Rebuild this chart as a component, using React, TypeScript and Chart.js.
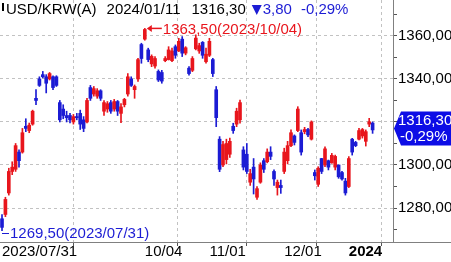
import React, { useEffect, useRef } from 'react';
import { Chart, registerables } from 'chart.js';

Chart.register(...registerables);

// ---- data (USD/KRW daily candles, 2023/07/31 - 2024/01/11) ----
const openP = [
  1275, 1277, 1287, 1297, 1298, 1306, 1306, 1318, 1316, 1319,
  1331, 1340, 1342, 1341, 1340, 1341, 1341, 1329, 1326, 1323,
  1323, 1320, 1322.5, 1324, 1321, 1320, 1336, 1333, 1332, 1334.5,
  1325, 1326, 1329, 1326, 1329.5, 1324, 1328, 1333, 1340, 1335,
  1340, 1356, 1358.5, 1353.5, 1347, 1346, 1343.5, 1343, 1348.5, 1349,
  1348.5, 1355, 1353, 1358.5, 1352, 1345, 1344, 1354, 1353, 1357,
  1348, 1351, 1349, 1335, 1312, 1300, 1302.5, 1305, 1318, 1319,
  1321, 1307, 1305, 1292, 1299, 1285, 1292, 1302, 1301.5, 1306,
  1297, 1289.5, 1290.5, 1297, 1302, 1309, 1313.5, 1316, 1315, 1315.5,
  1316.5, 1312, 1296.5, 1291, 1303, 1300, 1302, 1301, 1299, 1300,
  1296.5, 1292.5, 1290, 1312, 1310.5, 1312, 1313.5, 1311, 1319, 1319.5,
];
const highP = [
  1277, 1285, 1298.5, 1301.5, 1310, 1307, 1317, 1321.5, 1319.5, 1325.5,
  1335, 1341, 1343.5, 1342, 1343, 1341.5, 1341.5, 1330, 1328, 1325,
  1324, 1323.5, 1324, 1325.5, 1322.5, 1331, 1337, 1336.5, 1335.5, 1335,
  1330, 1329.5, 1330, 1330.5, 1330, 1328.5, 1331, 1342.5, 1341, 1337.2,
  1349.6, 1356.6, 1363.5, 1354.3, 1351.2, 1350.4, 1344.2, 1344, 1350.4, 1355,
  1354.3, 1355.8, 1358.9, 1359.7, 1355, 1345.7, 1350.4, 1360.5, 1356.6, 1357.4,
  1354.3, 1358.9, 1349.6, 1336.5, 1313.2, 1311, 1312, 1312.5, 1319.4, 1326.4,
  1330.2, 1308.5, 1310, 1298, 1303, 1290, 1301, 1303, 1307.5, 1308.5,
  1297.7, 1293, 1293, 1307.8, 1311, 1316.3, 1314, 1327.1, 1316.3, 1317.5,
  1317, 1320.5, 1297.7, 1299.2, 1303.1, 1308.5, 1302.3, 1305.4, 1304.6, 1300,
  1297, 1293.8, 1303.9, 1312.4, 1311, 1317, 1317, 1316.3, 1321.7, 1320,
];
const lowP = [
  1269.5, 1276, 1286, 1295.5, 1297, 1299, 1305.5, 1315.5, 1315, 1318.5,
  1328, 1336.5, 1340.5, 1333.5, 1339.5, 1335, 1336.5, 1320, 1321.5, 1320,
  1319.5, 1319, 1321, 1316.5, 1315.5, 1319.5, 1330, 1332, 1331, 1330,
  1323, 1324.5, 1324, 1325, 1323, 1319.7, 1327, 1332, 1336.5, 1331,
  1338.8, 1347.3, 1358, 1348, 1345.7, 1345, 1338.8, 1338, 1348, 1348.8,
  1348, 1349.6, 1352.7, 1350.4, 1351.2, 1341.8, 1343.4, 1353.5, 1351.9, 1349.6,
  1347.3, 1350.4, 1341.1, 1317.8, 1296.9, 1299.2, 1300.5, 1303.5, 1314.7, 1317.8,
  1319.4, 1297.7, 1296, 1290.5, 1286.5, 1284, 1291.5, 1296.5, 1301, 1302.5,
  1290.5, 1286, 1286.8, 1296, 1300.5, 1308.5, 1309.3, 1315.5, 1304.6, 1314.5,
  1313.2, 1311.6, 1293, 1290, 1296, 1299.2, 1297.7, 1300.8, 1297.7, 1293.8,
  1293, 1286, 1289.5, 1304.6, 1308.5, 1311.6, 1312.5, 1308.8, 1317.8, 1314.7,
];
const closeP = [
  1271, 1284, 1297, 1299, 1309, 1302, 1315, 1317, 1318.5, 1325,
  1330, 1337, 1341, 1338, 1342.5, 1336, 1337, 1321, 1323, 1322,
  1321, 1322.5, 1322, 1319, 1317, 1330, 1331, 1335.5, 1334.5, 1331,
  1329, 1328.5, 1325, 1329.5, 1325, 1327, 1330.5, 1341, 1337, 1336.5,
  1349, 1349.5, 1363, 1349, 1350.5, 1349.5, 1339.5, 1339, 1349.5, 1353.5,
  1353, 1351, 1357.5, 1352, 1354.5, 1342.5, 1349.5, 1359, 1355.5, 1351,
  1351.5, 1357.5, 1342.5, 1322, 1298, 1309.5, 1310, 1311, 1316, 1325,
  1329, 1299, 1297, 1296, 1293.5, 1289, 1300, 1298, 1306, 1304,
  1293.5, 1292, 1289.5, 1306, 1309, 1315, 1310.5, 1326, 1306, 1316.5,
  1314, 1320, 1295, 1298.5, 1297, 1307.5, 1299, 1304.5, 1304, 1294.5,
  1293.5, 1287, 1303, 1306, 1309, 1316, 1316.5, 1315.5, 1320.1, 1316.3,
];

const xTickIndex = [0, 42, 61, 83, 102];
const xTickLabels = ['2023/07/31', '10/04', '11/01', '12/01', '2024'];
const xTickBold = [false, false, false, false, true];
const yMajorTicks = [1280, 1300, 1320, 1340, 1360];
const yMinorTicks = [1270, 1290, 1310, 1330, 1350, 1370];

const titleSymbol = 'USD/KRW(A)';
const titleDate = '2024/01/11';
const lastPriceText = '1316,30';
const changeText = '3,80';
const changePctText = '-0,29%';
const highDate = '2023/10/04';
const lowDate = '2023/07/31';

const FONT = '"Liberation Sans", Arial, sans-serif';
const RED = '#e8161d';
const BLUE = '#1c1cd4';
const BADGE = '#0d0de6';
const GRID = '#c2c2c2';
const AXIS = '#808080';

const fmt = (v: number) => v.toFixed(2).replace('.', ',');
const idx = openP.map((_, i) => i);
const isUp = (i: number) => closeP[i] >= openP[i];
const colors = idx.map((i) => (isUp(i) ? RED : BLUE));

const overlay = {
  id: 'overlay',
  afterDraw(chart: any) {
    const { ctx, chartArea } = chart;
    const x = chart.scales.x;
    const y = chart.scales.y;
    ctx.save();
    // extend bottom axis line under the price scale
    ctx.strokeStyle = AXIS;
    ctx.lineWidth = 1;
    ctx.beginPath();
    ctx.moveTo(chartArea.right, Math.round(chartArea.bottom) + 0.5);
    ctx.lineTo(chart.width, Math.round(chartArea.bottom) + 0.5);
    ctx.stroke();

    ctx.font = `15px ${FONT}`;
    ctx.textBaseline = 'middle';
    ctx.textAlign = 'left';

    // header
    const ty = 10;
    ctx.fillStyle = '#000';
    ctx.fillRect(2, 3, 2, 8);
    let cx = 6;
    ctx.fillText(titleSymbol, cx, ty);
    cx += ctx.measureText(titleSymbol).width + 10;
    ctx.fillText(titleDate, cx, ty);
    cx += ctx.measureText(titleDate).width + 11;
    ctx.fillText(lastPriceText, cx, ty);
    cx += ctx.measureText(lastPriceText).width + 6;
    ctx.fillStyle = BLUE;
    ctx.beginPath();
    ctx.moveTo(cx, 5);
    ctx.lineTo(cx + 10, 5);
    ctx.lineTo(cx + 5, 15);
    ctx.closePath();
    ctx.fill();
    cx += 11;
    ctx.fillText(changeText, cx, ty);
    cx += ctx.measureText(changeText).width + 9;
    ctx.fillText(changePctText, cx, ty);

    // high annotation
    let hiIdx = 0;
    highP.forEach((v, i) => { if (v > highP[hiIdx]) hiIdx = i; });
    const hx = x.getPixelForValue(hiIdx);
    const hy = y.getPixelForValue(highP[hiIdx]);
    ctx.fillStyle = RED;
    ctx.strokeStyle = RED;
    ctx.beginPath();
    ctx.moveTo(hx + 2, hy);
    ctx.lineTo(hx + 7, hy - 3.5);
    ctx.lineTo(hx + 7, hy + 3.5);
    ctx.closePath();
    ctx.fill();
    ctx.lineWidth = 1.5;
    ctx.beginPath();
    ctx.moveTo(hx + 6, hy);
    ctx.lineTo(hx + 17, hy);
    ctx.stroke();
    ctx.fillText(`${fmt(highP[hiIdx])}(${highDate})`, hx + 18, hy + 1.5);

    // low annotation
    let loIdx = 0;
    lowP.forEach((v, i) => { if (v < lowP[loIdx]) loIdx = i; });
    const lx = x.getPixelForValue(loIdx);
    const ly = y.getPixelForValue(lowP[loIdx]);
    ctx.strokeStyle = BLUE;
    ctx.fillStyle = BLUE;
    ctx.lineWidth = 1;
    ctx.beginPath();
    ctx.moveTo(lx, Math.round(ly + 2) + 0.5);
    ctx.lineTo(lx + 7, Math.round(ly + 2) + 0.5);
    ctx.stroke();
    ctx.fillText(`${fmt(lowP[loIdx])}(${lowDate})`, lx + 8, ly + 3);

    // last price badge
    const last = closeP[closeP.length - 1];
    const by = y.getPixelForValue(last) - 1.5;
    const bx = chartArea.right;
    ctx.fillStyle = BADGE;
    ctx.beginPath();
    ctx.moveTo(bx + 1, by);
    ctx.lineTo(bx + 8, by - 17);
    ctx.lineTo(chart.width, by - 17);
    ctx.lineTo(chart.width, by + 17);
    ctx.lineTo(bx + 8, by + 17);
    ctx.closePath();
    ctx.fill();
    ctx.fillStyle = '#fff';
    ctx.fillText(fmt(last), bx + 5, by - 8);
    ctx.fillText(changePctText, bx + 7, by + 8.5);
    ctx.restore();
  },
};

export default function App() {
  const ref = useRef<HTMLCanvasElement>(null);
  useEffect(() => {
    document.body.style.margin = '0';
    const chart = new Chart(ref.current as HTMLCanvasElement, {
      type: 'bar',
      data: {
        datasets: [
          {
            label: 'wick',
            data: idx.map((i) => ({ x: i, y: [lowP[i], highP[i]] })) as any,
            backgroundColor: colors,
            borderWidth: 0,
            barThickness: 1,
            grouped: false,
            minBarLength: 1,
          } as any,
          {
            label: 'body',
            data: idx.map((i) => ({ x: i, y: [openP[i], closeP[i]] })) as any,
            backgroundColor: colors,
            borderWidth: 0,
            barThickness: 3,
            grouped: false,
            minBarLength: 1,
          } as any,
        ],
      },
      options: {
        animation: false,
        responsive: false,
        devicePixelRatio: 1,
        events: [],
        layout: { padding: 0 },
        plugins: { legend: { display: false }, tooltip: { enabled: false }, title: { display: false } },
        scales: {
          x: {
            type: 'linear',
            min: -0.59,
            max: 115,
            offset: false,
            afterBuildTicks: (s: any) => { s.ticks = xTickIndex.map((v) => ({ value: v })); },
            afterFit: (s: any) => { s.height = 20; s.paddingLeft = 0; s.paddingRight = 0; },
            ticks: {
              autoSkip: false,
              maxRotation: 0,
              minRotation: 0,
              align: 'start',
              padding: -3,
              color: '#000',
              font: (c: any) => {
                const k = c.tick ? xTickIndex.indexOf(c.tick.value) : -1;
                return { family: FONT, size: 15, weight: k >= 0 && xTickBold[k] ? 'bold' : 'normal' };
              },
              callback: (v: any) => {
                const k = xTickIndex.indexOf(Number(v));
                return k >= 0 ? xTickLabels[k] : '';
              },
            },
            grid: { color: GRID, tickColor: '#555', tickLength: 4, lineWidth: 1 },
            border: { display: true, color: AXIS, dash: [3, 3] },
          } as any,
          y: {
            type: 'linear',
            position: 'right',
            min: 1264.2,
            max: 1376.7,
            afterBuildTicks: (s: any) => {
              s.ticks = [...yMinorTicks, ...yMajorTicks].sort((a, b) => a - b).map((v) => ({ value: v }));
            },
            afterFit: (s: any) => { s.width = 58; s.paddingTop = 0; s.paddingBottom = 0; },
            ticks: {
              autoSkip: false,
              padding: 1,
              color: '#000',
              font: { family: FONT, size: 15 },
              callback: (v: any) => (yMajorTicks.includes(Number(v)) ? fmt(Number(v)) : ''),
            },
            grid: {
              color: (c: any) => (c.tick && yMajorTicks.includes(c.tick.value) ? GRID : 'rgba(0,0,0,0)'),
              tickColor: '#555',
              tickLength: 4,
              lineWidth: 1,
            },
            border: { display: true, color: AXIS, dash: [3, 3] },
          } as any,
        },
      },
      plugins: [overlay],
    });
    return () => chart.destroy();
  }, []);
  return <canvas ref={ref} width={451} height={262} style={{ display: 'block', width: 451, height: 262 }} />;
}
